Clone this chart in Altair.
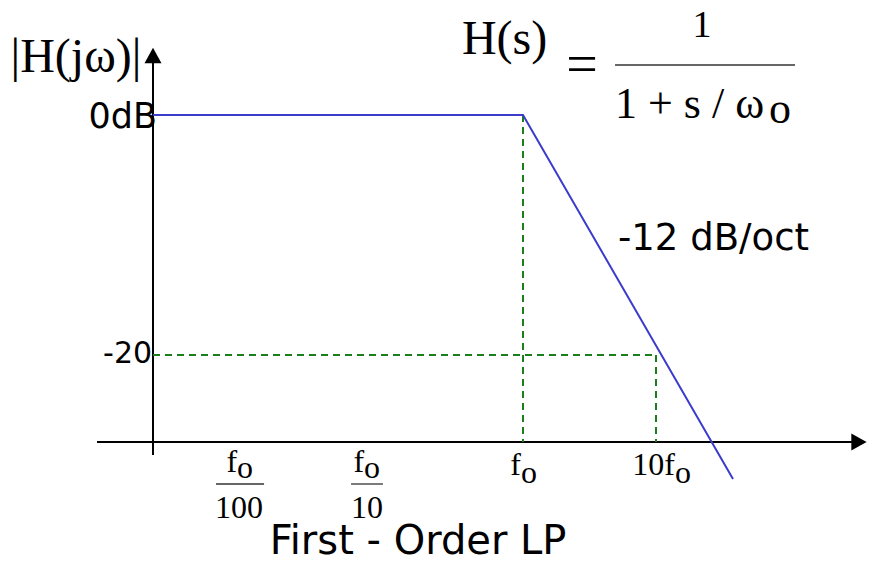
import altair as alt
import pandas as pd

# ---- data (x: decades relative to f_o, y: magnitude in dB) ----
resp_x = [-2.782, 0.0, 1.579]
resp_db = [0.0, 0.0, -30.333]

# axes (x0, y0, x1, y1)
axis_x0 = [-3.203, -2.782]
axis_y0 = [-27.25, -28.333]
axis_x1 = [2.534, -2.782]
axis_y1 = [-27.25, 4.917]

# green guides
guide_x0 = [0.0, -2.782, 1.0]
guide_y0 = [0.0, -20.0, -20.0]
guide_x1 = [0.0, 1.0, 1.0]
guide_y1 = [-27.25, -20.0, -27.25]

# fraction bars (formula + tick labels)
bar_x0 = [0.692, -2.308, -1.293]
bar_x1 = [2.045, -1.947, -1.053]
bar_y = [4.167, -30.75, -30.75]
bar_w = [1.6, 1.3, 1.3]

# arrow heads
arrow_x = [-2.782, 2.526]
arrow_y = [4.958, -27.25]

# serif texts
serif_text = ["|H(jω)|", "H(s)", "=", "1", "1 + s / ω", "o",
              "f", "o", "100", "f", "o", "10", "f", "o", "10f", "o"]
serif_x = [-3.361, -0.459, 0.444, 1.346, 0.692, 1.850,
           -2.150, -2.150, -2.135, -1.195, -1.195, -1.173, -0.015, -0.015, 1.143, 1.143]
serif_y = [3.583, 5.083, 2.667, 6.5, -0.25, -0.667,
           -29.75, -30.25, -33.583, -29.75, -30.25, -33.583, -30.0, -30.667, -30.0, -30.667]
serif_size = [48, 48, 56, 38, 44, 44, 32, 32, 32, 32, 32, 32, 32, 32, 32, 32]
serif_align = ["center", "left", "center", "center", "left", "left",
               "right", "left", "center", "right", "left", "center", "right", "left", "right", "left"]

# sans texts
sans_text = ["0dB", "-20", "-12 dB/oct", "First - Order LP"]
sans_x = [-2.752, -2.789, 0.714, -0.789]
sans_y = [-1.083, -20.667, -11.25, -36.583]
sans_size = [35, 30, 37, 40]
sans_align = ["right", "right", "left", "center"]

XS = alt.Scale(domain=[-3.8722, 2.5865], nice=False, zero=False)
YS = alt.Scale(domain=[-36.75, 8.917], nice=False, zero=False)

def X(f):
    return alt.X(f, type="quantitative", scale=XS, axis=None)

def Y(f):
    return alt.Y(f, type="quantitative", scale=YS, axis=None)

resp = pd.DataFrame({"x": resp_x, "y": resp_db, "i": range(len(resp_x))})
axes = pd.DataFrame({"x": axis_x0, "y": axis_y0, "x2": axis_x1, "y2": axis_y1})
guides = pd.DataFrame({"x": guide_x0, "y": guide_y0, "x2": guide_x1, "y2": guide_y1})
bars = pd.DataFrame({"x": bar_x0, "x2": bar_x1, "y": bar_y, "w": bar_w})
arrows = pd.DataFrame({"x": arrow_x, "y": arrow_y, "s": ["up", "right"]})
serif = pd.DataFrame({"t": serif_text, "x": serif_x, "y": serif_y, "sz": serif_size, "a": serif_align})
sans = pd.DataFrame({"t": sans_text, "x": sans_x, "y": sans_y, "sz": sans_size, "a": sans_align})

layers = []

layers.append(alt.Chart(axes).mark_rule(color="black", strokeWidth=2).encode(
    x=X("x"), y=Y("y"), x2="x2", y2="y2"))

layers.append(alt.Chart(guides).mark_rule(color="#1a7f1a", strokeWidth=2, strokeDash=[7, 5]).encode(
    x=X("x"), y=Y("y"), x2="x2", y2="y2"))

layers.append(alt.Chart(resp).mark_line(color="#3c3ccc", strokeWidth=2).encode(
    x=X("x"), y=Y("y"), order="i:Q"))

layers.append(alt.Chart(bars).mark_rule(color="#333333").encode(
    x=X("x"), x2="x2", y=Y("y"), strokeWidth=alt.StrokeWidth("w:Q", scale=None)))

up_path = "M -1 0.9 L 0 -0.9 L 1 0.9 Z"
right_path = "M -0.9 -1 L 0.9 0 L -0.9 1 Z"
layers.append(alt.Chart(arrows).transform_filter(alt.datum.s == "up").mark_point(
    shape=up_path, filled=True, size=289, color="black", opacity=1, strokeWidth=0).encode(x=X("x"), y=Y("y")))
layers.append(alt.Chart(arrows).transform_filter(alt.datum.s == "right").mark_point(
    shape=right_path, filled=True, size=289, color="black", opacity=1, strokeWidth=0).encode(x=X("x"), y=Y("y")))

for al in ["left", "center", "right"]:
    layers.append(alt.Chart(serif).transform_filter(alt.datum.a == al).mark_text(
        font="Liberation Serif", align=al, baseline="alphabetic", color="black").encode(
        x=X("x"), y=Y("y"), text="t:N", size=alt.Size("sz:Q", scale=None)))
    layers.append(alt.Chart(sans).transform_filter(alt.datum.a == al).mark_text(
        font="DejaVu Sans", align=al, baseline="alphabetic", color="black").encode(
        x=X("x"), y=Y("y"), text="t:N", size=alt.Size("sz:Q", scale=None)))

chart = alt.layer(*layers).properties(
    width=859, height=548, padding=0, autosize=alt.AutoSizeParams(type="none"),
    background="white"
).configure_view(stroke=None)

chart.save("out.html", embed_options={"renderer": "svg", "actions": False})
